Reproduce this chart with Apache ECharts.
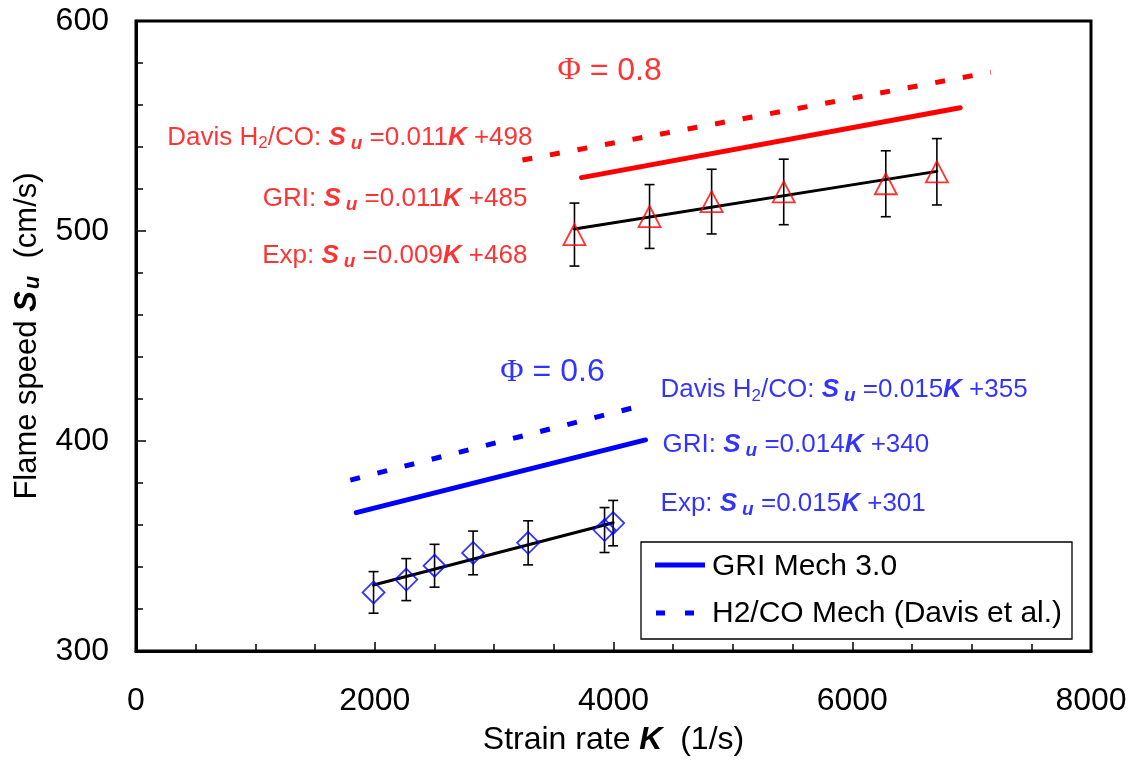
<!DOCTYPE html>
<html>
<head>
<meta charset="utf-8">
<script src="https://cdn.jsdelivr.net/npm/echarts@6/dist/echarts.min.js"></script>
<style>
html,body{margin:0;padding:0;background:#fff;}
#chart{width:1139px;height:761px;}
</style>
</head>
<body>
<div id="chart"></div>
<script>
// ---- Data ----
// Phi = 0.8 experiments
const phi08K   = [3673, 4302, 4822, 5426, 6281, 6709];
const phi08Su  = [498.3, 506.9, 514.0, 518.6, 522.5, 528.2];
const phi08Err = [15.0, 15.2, 15.4, 15.6, 15.7, 15.8];
// Phi = 0.6 experiments
const phi06K   = [1990, 2264, 2501, 2824, 3285, 3925, 3997];
const phi06Su  = [327.9, 334.0, 340.6, 346.7, 351.5, 357.6, 360.9];
const phi06Err = [9.9, 10.0, 10.2, 10.4, 10.5, 10.7, 10.8];
// Lines (end points)
const phi08GriK   = [3732, 6904];  const phi08GriSu   = [525.4, 558.7];
const phi08DavisK = [3237, 7161];  const phi08DavisSu = [533.8, 575.6];
const phi08FitK   = [3673, 6709];  const phi08FitSu   = [501.0, 528.4];
const phi06GriK   = [1845, 4268];  const phi06GriSu   = [365.9, 400.5];
const phi06DavisK = [1795, 4176];  const phi06DavisSu = [381.4, 416.0];
const phi06FitK   = [1990, 3997];  const phi06FitSu   = [331.4, 361.1];
// Axis
const xTicks = [0, 2000, 4000, 6000, 8000];
const yTicks = [300, 400, 500, 600];
// Texts
const legendNames = ['GRI Mech 3.0', 'H2/CO Mech (Davis et al.)'];
const phi08Title = '{phi|Φ} = 0.8';
const phi06Title = '{phi|Φ} = 0.6';
const phi08Eqs = [
  'Davis H{sub|2}/CO: {S|S}{su|u} =0.011{K|K} +498',
  'GRI: {S|S}{su|u} =0.011{K|K} +485',
  'Exp: {S|S}{su|u} =0.009{K|K} +468'
];
const phi06Eqs = [
  'Davis H{sub|2}/CO: {S|S}{su|u} =0.015{K|K} +355',
  'GRI: {S|S}{su|u} =0.014{K|K} +340',
  'Exp: {S|S}{su|u} =0.015{K|K} +301'
];

const RED = '#ff0000', BLUE = '#0000ff';
const FONT = '"Liberation Sans", Arial, sans-serif';
const zip = (a, b) => a.map((v, i) => [v, b[i]]);
const zip3 = (a, b, c) => a.map((v, i) => [v, b[i], c[i]]);

function eqRich(color) {
  return {
    sub: { fontSize: 17, color, fontFamily: FONT, padding: [12, 0, 0, 0] },
    S: { fontSize: 26, color, fontFamily: FONT, fontWeight: 'bold', fontStyle: 'italic' },
    su: { fontSize: 19, color, fontFamily: FONT, fontWeight: 'bold', fontStyle: 'italic', padding: [12, 0, 0, 5] },
    K: { fontSize: 26, color, fontFamily: FONT, fontWeight: 'bold', fontStyle: 'italic' },
    phi: { fontSize: 32, color, fontFamily: '"Liberation Serif", "Times New Roman", serif' }
  };
}

function errorBars(data) {
  return {
    type: 'custom',
    data,
    encode: { x: 0, y: 1 },
    z: 3,
    silent: true,
    renderItem(params, api) {
      const x = api.value(0), y = api.value(1), e = api.value(2);
      const t = api.coord([x, y + e]), b = api.coord([x, y - e]);
      const hw = 5, st = { stroke: '#000', lineWidth: 1.6 };
      return { type: 'group', children: [
        { type: 'line', shape: { x1: t[0], y1: t[1], x2: b[0], y2: b[1] }, style: st },
        { type: 'line', shape: { x1: t[0] - hw, y1: t[1], x2: t[0] + hw, y2: t[1] }, style: st },
        { type: 'line', shape: { x1: b[0] - hw, y1: b[1], x2: b[0] + hw, y2: b[1] }, style: st }
      ]};
    }
  };
}

function lineSeries(data, color, width, dashed, z) {
  return {
    type: 'line', data, showSymbol: false, symbol: 'none', silent: true, z: z || 2,
    lineStyle: dashed ? { color, width, type: [10, 18], cap: 'butt' } : { color, width, cap: 'round' }
  };
}

function textSeries(items, color) {
  // items: [K, Su, text, align, fontSize]
  return {
    type: 'scatter', symbolSize: 0, silent: true, z: 6,
    data: items.map(it => ({ value: [it[0], it[1]], label: { align: it[3], fontSize: it[4] }, text: it[2] })),
    label: {
      show: true, position: 'inside', color, fontSize: 26, fontFamily: FONT,
      verticalAlign: 'middle',
      formatter: p => p.data.text,
      rich: eqRich(color)
    },
    labelLayout: { hideOverlap: false }
  };
}

const chart = echarts.init(document.getElementById('chart'), null, { renderer: 'canvas' });
const option = {
  animation: false,
  backgroundColor: '#fff',
  grid: { left: 136, right: 48, top: 21, bottom: 110, show: true, borderColor: '#000', borderWidth: 3, backgroundColor: 'transparent' },
  xAxis: {
    type: 'value', min: xTicks[0], max: xTicks[xTicks.length - 1], interval: 2000,
    axisLine: { lineStyle: { color: '#000', width: 3 } },
    axisTick: { inside: true, length: 9, lineStyle: { color: '#000', width: 1.5 } },
    minorTick: { show: true, splitNumber: 4, length: 7, lineStyle: { color: '#000', width: 1.5 } },
    splitLine: { show: false },
    axisLabel: { color: '#000', fontSize: 32, fontFamily: FONT, margin: 34, formatter: v => String(v) },
    name: 'Strain rate {K|K}  (1/s)', nameLocation: 'middle', nameGap: 73,
    nameTextStyle: { color: '#000', fontSize: 32, fontFamily: FONT,
      rich: { K: { fontSize: 32, fontFamily: FONT, fontWeight: 'bold', fontStyle: 'italic', color: '#000' } } }
  },
  yAxis: {
    type: 'value', min: yTicks[0], max: yTicks[yTicks.length - 1], interval: 100,
    axisLine: { lineStyle: { color: '#000', width: 3 } },
    axisTick: { inside: true, length: 10, lineStyle: { color: '#000', width: 1.5 } },
    minorTick: { show: true, splitNumber: 5, length: 7, lineStyle: { color: '#000', width: 1.5 } },
    splitLine: { show: false },
    axisLabel: { color: '#000', fontSize: 32, fontFamily: FONT, margin: 27, formatter: v => String(v) },
    name: 'Flame speed {S|S}{su|u}  (cm/s)', nameLocation: 'middle', nameGap: 92, nameRotate: 90,
    nameTextStyle: { color: '#000', fontSize: 31, fontFamily: FONT,
      rich: {
        S: { fontSize: 31, fontFamily: FONT, fontWeight: 'bold', fontStyle: 'italic', color: '#000' },
        su: { fontSize: 22, fontFamily: FONT, fontWeight: 'bold', fontStyle: 'italic', color: '#000', padding: [12, 0, 0, 2] }
      } }
  },
  series: [
    lineSeries(zip(phi08DavisK, phi08DavisSu), RED, 5, true),
    lineSeries(zip(phi08GriK, phi08GriSu), RED, 5, false),
    lineSeries(zip(phi08FitK, phi08FitSu), '#000', 3, false, 4),
    lineSeries(zip(phi06DavisK, phi06DavisSu), BLUE, 5, true),
    lineSeries(zip(phi06GriK, phi06GriSu), BLUE, 5, false),
    lineSeries(zip(phi06FitK, phi06FitSu), '#000', 3, false, 4),
    errorBars(zip3(phi08K, phi08Su, phi08Err)),
    errorBars(zip3(phi06K, phi06Su, phi06Err)),
    { type: 'scatter', data: zip(phi08K, phi08Su), symbol: 'triangle', symbolSize: [22, 21], z: 5, silent: true,
      itemStyle: { color: 'rgba(0,0,0,0)', borderColor: RED, borderWidth: 1.8 } },
    { type: 'scatter', data: zip(phi06K, phi06Su), symbol: 'diamond', symbolSize: [22, 22], z: 5, silent: true,
      itemStyle: { color: 'rgba(0,0,0,0)', borderColor: BLUE, borderWidth: 1.8 } },
    textSeries([
      [3530, 576.2, phi08Title, 'left', 32],
      [3321, 544.5, phi08Eqs[0], 'right', 26],
      [3279, 515.2, phi08Eqs[1], 'right', 26],
      [3279, 488.1, phi08Eqs[2], 'right', 26]
    ], RED),
    textSeries([
      [3052, 432.6, phi06Title, 'left', 32],
      [4394, 424.3, phi06Eqs[0], 'left', 26],
      [4411, 398.1, phi06Eqs[1], 'left', 26],
      [4394, 370.0, phi06Eqs[2], 'left', 26]
    ], BLUE)
  ],
  graphic: [{
    type: 'group', z: 100,
    children: [
      { type: 'rect', shape: { x: 641, y: 542, width: 431, height: 97 }, style: { fill: '#fff', stroke: '#000', lineWidth: 1.3 } },
      { type: 'line', shape: { x1: 655, y1: 565, x2: 705, y2: 565 }, style: { stroke: BLUE, lineWidth: 5 } },
      { type: 'text', x: 712, y: 567, style: { text: legendNames[0], fill: '#000', font: '30px ' + FONT, verticalAlign: 'middle' } },
      { type: 'line', shape: { x1: 656, y1: 613, x2: 706, y2: 613 }, style: { stroke: BLUE, lineWidth: 5, lineDash: [9, 20] } },
      { type: 'text', x: 712, y: 614, style: { text: legendNames[1], fill: '#000', font: '30px ' + FONT, verticalAlign: 'middle' } }
    ]
  }]
};
chart.setOption(option);
</script>
</body>
</html>
